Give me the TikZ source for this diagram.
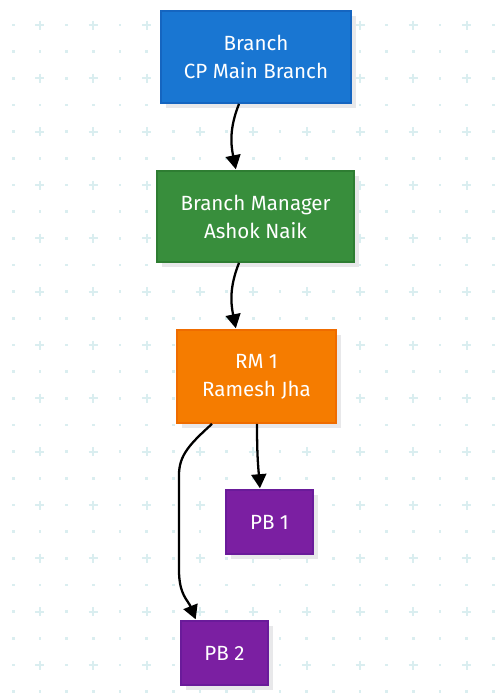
\documentclass[tikz,border=0pt]{standalone}
\usepackage{fontspec}
\setmainfont{Fira Sans}
\usepackage{xcolor}
\definecolor{branchblue}{RGB}{25,118,210}
\definecolor{branchblueedge}{RGB}{21,101,192}
\definecolor{mgrgreen}{RGB}{56,142,60}
\definecolor{mgrgreenedge}{RGB}{46,125,50}
\definecolor{rmorange}{RGB}{245,124,0}
\definecolor{rmorangeedge}{RGB}{239,108,0}
\definecolor{pbpurple}{RGB}{123,31,162}
\definecolor{pbpurpleedge}{RGB}{106,27,154}
\definecolor{gridtint}{RGB}{218,238,240}
\definecolor{shade}{RGB}{232,232,234}
\usetikzlibrary{arrows.meta,positioning,calc,shadows}

\begin{document}
\begin{tikzpicture}[
  x=0.02cm, y=-0.02cm,
  card/.style={rectangle, line width=1pt, text=white,
               align=center, inner sep=0pt,
               font=\fontsize{11.7}{15.9}\selectfont,
               general shadow={fill=shade, shadow xshift=0.1cm, shadow yshift=-0.1cm}},
  link/.style={line width=1.3pt, black,
               -{Triangle[length=8pt,width=8.5pt]}, shorten >=0.5pt},
]
  \useasboundingbox (0,0) rectangle (497,694);
  \fill[white] (0,0) rectangle (497,694);

  %% dotted background with crosses
  \foreach \i in {0,...,18}{%
    \foreach \j in {-1,...,26}{%
      \pgfmathsetmacro\gx{13.33+26.667*\i}
      \pgfmathsetmacro\gy{25+26.667*\j}
      \ifodd\i
        \ifodd\j
          \fill[gridtint] (\gx-1.4,\gy-1.4) rectangle ++(2.8,2.8);
        \else
          \draw[gridtint,line width=1.1pt]
            (\gx-4.5,\gy) -- (\gx+4.5,\gy) (\gx,\gy-4.5) -- (\gx,\gy+4.5);
        \fi
      \else
        \fill[gridtint] (\gx-1.4,\gy-1.4) rectangle ++(2.8,2.8);
      \fi
    }
  }

  \node[card, fill=branchblue, draw=branchblueedge,
        minimum width=3.8cm, minimum height=1.84cm]
    (branch) at (256,57) {Branch\\CP Main Branch};
  \node[card, fill=mgrgreen, draw=mgrgreenedge,
        minimum width=3.94cm, minimum height=1.82cm]
    (mgr) at (255.5,216.5) {Branch Manager\\Ashok Naik};
  \node[card, fill=rmorange, draw=rmorangeedge,
        minimum width=3.18cm, minimum height=1.86cm]
    (rm) at (256.5,376.5) {RM 1\\Ramesh Jha};
  \node[card, fill=pbpurple, draw=pbpurpleedge,
        minimum width=1.74cm, minimum height=1.28cm]
    (pbone) at (269.5,522) {PB 1};
  \node[card, fill=pbpurple, draw=pbpurpleedge,
        minimum width=1.74cm, minimum height=1.28cm]
    (pbtwo) at (224.5,653) {PB 2};

  %% reporting lines
  \draw[link] ($(branch.south)+(-17,0)$)
    .. controls +(-10,25) and +(-5,-25) .. ($(mgr.north)+(-19.5,0)$);
  \draw[link] ($(mgr.south)+(-16.5,0)$)
    .. controls +(-10,25) and +(-5,-25) .. ($(rm.north)+(-20.5,0)$);
  \draw[link] ($(rm.south)+(0.5,0)$)
    .. controls +(0,30) and +(-2,-25) .. ($(pbone.north)+(-9.5,0)$);
  \draw[link] ($(rm.south)+(-44.5,0)$)
    .. controls +(-22,20) and +(0,-20) .. (179,475) -- (179,570)
    .. controls +(0,25) and +(-8,-20) .. ($(pbtwo.north)+(-28.5,0)$);
\end{tikzpicture}
\end{document}
